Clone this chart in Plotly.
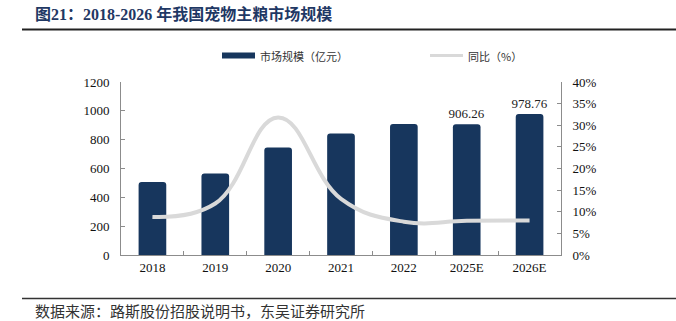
import plotly.graph_objects as go

categories = ["2018", "2019", "2020", "2021", "2022", "2025E", "2026E"]
market_size = [506, 566, 746, 843, 908, 906.26, 978.76]
yoy_pct = [8.8, 11.9, 31.8, 13.0, 7.7, 7.9, 8.0]
bar_labels = ["", "", "", "", "", "906.26", "978.76"]
left_ticks = [0, 200, 400, 600, 800, 1000, 1200]
right_ticks = [0, 5, 10, 15, 20, 25, 30, 35, 40]
right_tick_text = [f"{v}%" for v in right_ticks]

NAVY = "#17365d"
LINE = "#d9d9d9"
AXIS = "#8c8c8c"
SERIF = "Liberation Serif, Times New Roman, serif"
CJK = "Noto Sans CJK SC, sans-serif"

fig = go.Figure()
fig.add_trace(go.Bar(
    x=categories, y=market_size, name="市场规模（亿元）",
    marker=dict(color=NAVY, cornerradius=3, line=dict(width=0)),
    width=0.44,
    text=bar_labels, textposition="outside", cliponaxis=False,
    constraintext="none",
    textfont=dict(family=SERIF, size=13, color="#222"),
    showlegend=False,
))
fig.add_trace(go.Scatter(
    x=categories, y=yoy_pct, name="同比（%）", yaxis="y2",
    mode="lines", line=dict(color=LINE, width=4, shape="spline", smoothing=1.2),
    showlegend=False,
))

fig.update_layout(
    width=676, height=321,
    margin=dict(l=121, r=115, t=82, b=66),
    paper_bgcolor="white", plot_bgcolor="white",
    xaxis=dict(
        showline=True, linecolor=AXIS, linewidth=1,
        ticks="inside", ticklen=4, tickcolor=AXIS, tickson="boundaries",
        tickfont=dict(family=SERIF, size=13, color="#111"),
        showgrid=False, zeroline=False,
    ),
    yaxis=dict(
        range=[0, 1200], tickvals=left_ticks,
        showline=True, linecolor=AXIS, linewidth=1,
        ticks="inside", ticklen=4, tickcolor=AXIS,
        tickfont=dict(family=SERIF, size=13, color="#111"),
        ticklabelstandoff=8,
        showgrid=False, zeroline=False,
    ),
    yaxis2=dict(
        range=[0, 40], tickmode="array", tickvals=right_ticks, ticktext=right_tick_text,
        overlaying="y", side="right",
        showline=True, linecolor=AXIS, linewidth=1,
        ticks="inside", ticklen=4, tickcolor=AXIS,
        tickfont=dict(family=SERIF, size=13, color="#111"),
        ticklabelstandoff=8,
        showgrid=False, zeroline=False,
    ),
    font=dict(family=CJK),
)

def px_x(x):
    return (x - 121) / 440

def px_y(y):
    return (255 - y) / 173

# Title
fig.add_annotation(
    text="<b>图21：2018-2026 年我国宠物主粮市场规模</b>",
    xref="paper", yref="paper", x=px_x(33), y=px_y(14),
    xanchor="left", yanchor="middle", showarrow=False,
    font=dict(family="Liberation Serif, Noto Sans CJK SC", size=16, color="#1f3864"),
)
# Source
fig.add_annotation(
    text="数据来源：路斯股份招股说明书，东吴证券研究所",
    xref="paper", yref="paper", x=px_x(33), y=px_y(310),
    xanchor="left", yanchor="middle", showarrow=False,
    font=dict(family=CJK, size=15, color="#333"),
)

shapes = [
    dict(type="line", xref="paper", yref="paper", x0=px_x(22), x1=px_x(676),
         y0=px_y(29.5), y1=px_y(29.5), line=dict(color="#222", width=2)),
    dict(type="line", xref="paper", yref="paper", x0=px_x(22), x1=px_x(676),
         y0=px_y(298.5), y1=px_y(298.5), line=dict(color="#333", width=1.5)),
    dict(type="rect", xref="paper", yref="paper", x0=px_x(222), x1=px_x(255),
         y0=px_y(58.5), y1=px_y(52.5), fillcolor=NAVY, line=dict(width=0)),
    dict(type="line", xref="paper", yref="paper", x0=px_x(430), x1=px_x(463),
         y0=px_y(55.5), y1=px_y(55.5), line=dict(color=LINE, width=3)),
]
fig.update_layout(shapes=shapes)

fig.add_annotation(text="市场规模（亿元）", xref="paper", yref="paper",
                   x=px_x(258), y=px_y(55.5), xanchor="left", yanchor="middle",
                   showarrow=False, font=dict(family=CJK, size=11, color="#333"))
fig.add_annotation(text="同比（%）", xref="paper", yref="paper",
                   x=px_x(466), y=px_y(55.5), xanchor="left", yanchor="middle",
                   showarrow=False, font=dict(family=CJK, size=11, color="#333"))

fig.write_html("out.html")
